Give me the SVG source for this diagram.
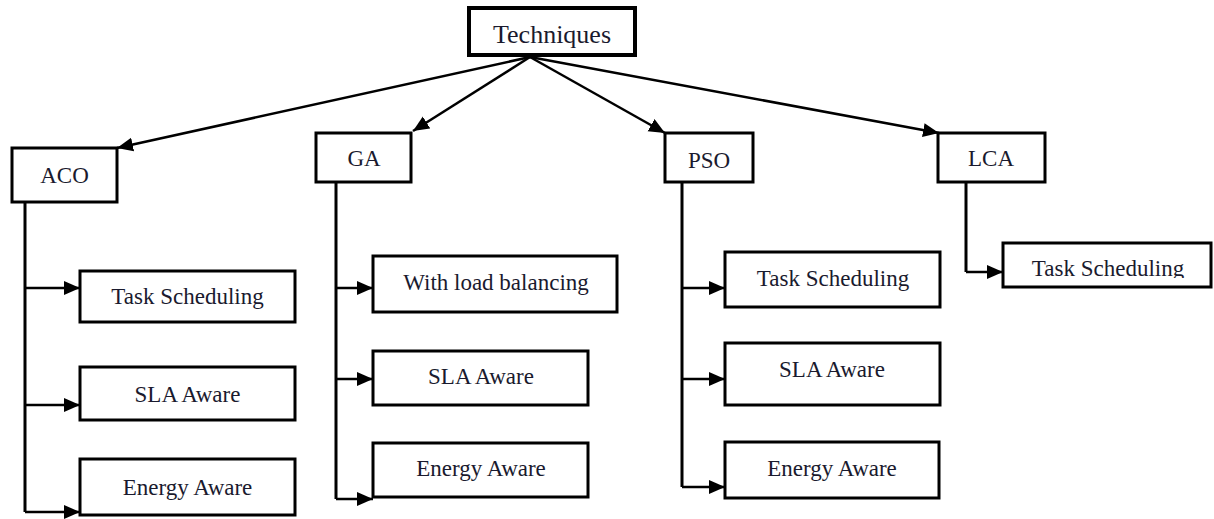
<svg xmlns="http://www.w3.org/2000/svg" width="1214" height="519" viewBox="0 0 1214 519">
  <style>
    .box { fill: #fff; stroke: #000; stroke-width: 3; }
    .root { fill: #fff; stroke: #000; stroke-width: 4; }
    .lbl { font-family: 'Liberation Serif', 'DejaVu Serif', 'Times New Roman', serif; font-size: 23px; fill: #1a1a2e; text-anchor: middle; }
    .big { font-size: 26px; }
    .wire { fill: none; stroke: #000; stroke-width: 2.5; marker-end: url(#arrow); }
    .trunk { fill: none; stroke: #000; stroke-width: 3; }
  </style>
  <defs>
    <marker id="arrow" markerUnits="userSpaceOnUse" markerWidth="18" markerHeight="16" refX="16" refY="7" orient="auto">
      <path d="M0,0 L16,7 L0,14 Z" fill="#000"/>
    </marker>
    <clipPath id="lcaClip">
      <rect x="1000" y="240" width="214" height="38"/>
    </clipPath>
  </defs>
  <rect width="1214" height="519" fill="#fff"/>

  <!-- connectors -->
  <g id="connectors">
    <!-- root to first level -->
    <path class="wire" d="M530,57 L117,148"/>
    <path class="wire" d="M530,57 L413,131"/>
    <path class="wire" d="M530,57 L665,133"/>
    <path class="wire" d="M530,57 L939,133"/>
    <!-- ACO -->
    <path class="trunk" d="M25,202 V512"/>
    <path class="wire" d="M25,288 H80"/>
    <path class="wire" d="M25,405 H80"/>
    <path class="wire" d="M25,512 H80"/>
    <!-- GA -->
    <path class="trunk" d="M336,182 V499"/>
    <path class="wire" d="M336,288 H373"/>
    <path class="wire" d="M336,379 H373"/>
    <path class="wire" d="M336,499 H373"/>
    <!-- PSO -->
    <path class="trunk" d="M682,182 V487"/>
    <path class="wire" d="M682,288 H725"/>
    <path class="wire" d="M682,379 H725"/>
    <path class="wire" d="M682,487 H725"/>
    <!-- LCA -->
    <path class="trunk" d="M966,182 V272"/>
    <path class="wire" d="M966,272 H1003"/>
  </g>

  <g id="techniques">
    <rect class="root" x="469" y="8" width="166" height="47"/>
    <text class="lbl big" x="552" y="43">Techniques</text>
  </g>

  <g id="aco">
    <rect class="box" x="12" y="148" width="105" height="54"/>
    <text class="lbl" x="64.5" y="183">ACO</text>
  </g>
  <g id="ga">
    <rect class="box" x="316" y="133" width="95" height="49"/>
    <text class="lbl" x="364" y="166">GA</text>
  </g>
  <g id="pso">
    <rect class="box" x="665" y="133" width="88" height="49"/>
    <text class="lbl" x="709" y="168">PSO</text>
  </g>
  <g id="lca">
    <rect class="box" x="938" y="133" width="107" height="49"/>
    <text class="lbl" x="991" y="166">LCA</text>
  </g>

  <g id="aco-task">
    <rect class="box" x="80" y="271" width="215" height="51"/>
    <text class="lbl" x="187.5" y="304">Task Scheduling</text>
  </g>
  <g id="aco-sla">
    <rect class="box" x="80" y="367" width="215" height="53"/>
    <text class="lbl" x="187.5" y="402">SLA Aware</text>
  </g>
  <g id="aco-energy">
    <rect class="box" x="80" y="459" width="215" height="56"/>
    <text class="lbl" x="187.5" y="495">Energy Aware</text>
  </g>

  <g id="ga-load">
    <rect class="box" x="373" y="256" width="244" height="56"/>
    <text class="lbl" x="496" y="290">With load balancing</text>
  </g>
  <g id="ga-sla">
    <rect class="box" x="373" y="351" width="215" height="54"/>
    <text class="lbl" x="481" y="384">SLA Aware</text>
  </g>
  <g id="ga-energy">
    <rect class="box" x="373" y="443" width="215" height="54"/>
    <text class="lbl" x="481" y="476">Energy Aware</text>
  </g>

  <g id="pso-task">
    <rect class="box" x="725" y="252" width="215" height="55"/>
    <text class="lbl" x="833" y="286">Task Scheduling</text>
  </g>
  <g id="pso-sla">
    <rect class="box" x="725" y="343" width="215" height="62"/>
    <text class="lbl" x="832" y="377">SLA Aware</text>
  </g>
  <g id="pso-energy">
    <rect class="box" x="725" y="442" width="214" height="56"/>
    <text class="lbl" x="832" y="476">Energy Aware</text>
  </g>

  <g id="lca-task">
    <rect class="box" x="1003" y="243" width="208" height="44"/>
    <text class="lbl" x="1108" y="276" clip-path="url(#lcaClip)">Task Scheduling</text>
  </g>
</svg>
